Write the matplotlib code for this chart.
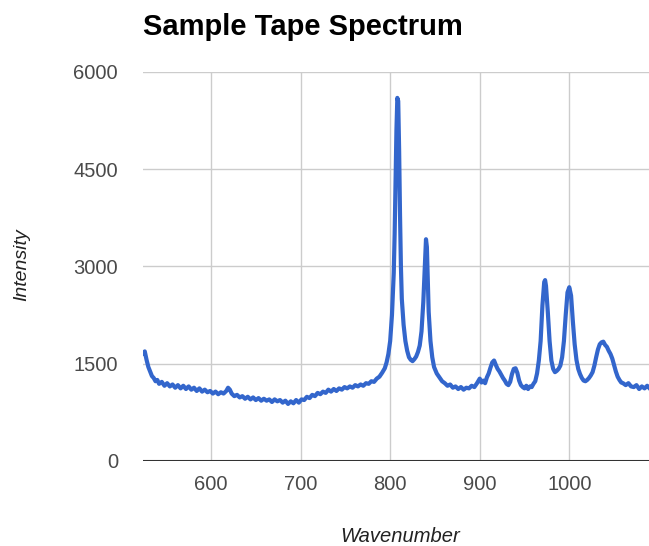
import matplotlib.pyplot as plt

plt.rcParams['font.family'] = ['Liberation Sans', 'DejaVu Sans']

# spectrum (wavenumber, intensity)
wavenumber = [524, 526, 528, 530, 532, 534, 536, 538, 540, 542, 545, 548, 551, 554, 557, 560,
              563, 566, 569, 572, 575, 578, 581, 584, 587, 590, 593, 596, 599, 602, 605, 608,
              611, 614, 617, 619, 621, 623, 626, 629, 632, 635, 638, 641, 644, 647, 650, 653,
              656, 659, 662, 665, 668, 671, 674, 677, 680, 683, 686, 689, 692, 695, 698, 701,
              704, 707, 710, 713, 716, 719, 722, 725, 728, 731, 734, 737, 740, 743, 746, 749,
              752, 755, 758, 761, 764, 767, 770, 773, 776, 779, 782, 785, 788, 791, 794, 796,
              798, 800, 802, 804, 805, 806, 807, 808, 809, 810, 811, 812, 813, 815, 817, 819,
              821, 823, 825, 827, 829, 831, 833, 835, 837, 839, 840, 841, 842, 843, 845, 847,
              849, 852, 855, 858, 861, 864, 867, 870, 873, 876, 879, 882, 885, 888, 891, 894,
              897, 900, 902, 904, 906, 908, 910, 912, 914, 916, 918, 920, 922, 924, 926, 928,
              930, 932, 934, 936, 938, 940, 942, 944, 946, 948, 950, 952, 954, 956, 958, 960,
              962, 964, 966, 968, 970, 972, 973, 974, 976, 978, 980, 982, 984, 986, 988, 990,
              992, 994, 996, 998, 1000, 1002, 1004, 1006, 1008, 1010, 1012, 1014, 1016, 1018,
              1020, 1022, 1024, 1026, 1028, 1030, 1032, 1034, 1036, 1038, 1040, 1042, 1044,
              1046, 1048, 1050, 1052, 1054, 1056, 1058, 1060, 1063, 1066, 1069, 1072, 1075,
              1078, 1081, 1084, 1087, 1089]
intensity = [1660, 1690, 1560, 1450, 1380, 1310, 1280, 1230, 1250, 1190, 1220, 1160, 1200, 1150, 1180, 1130,
             1170, 1120, 1160, 1110, 1150, 1100, 1130, 1080, 1120, 1070, 1100, 1060, 1080, 1040, 1070, 1030,
             1060, 1040, 1080, 1130, 1100, 1040, 1000, 1020, 980, 1000, 960, 990, 950, 980, 940, 970,
             930, 960, 930, 950, 910, 950, 920, 940, 900, 930, 880, 920, 890, 940, 900, 950,
             940, 990, 970, 1020, 1000, 1050, 1030, 1070, 1050, 1100, 1070, 1110, 1080, 1120, 1100, 1140,
             1120, 1150, 1130, 1170, 1150, 1180, 1160, 1200, 1190, 1230, 1220, 1270, 1300, 1360, 1430, 1520,
             1650, 1850, 2250, 2900, 3500, 4300, 5100, 5600, 5550, 4800, 3800, 3000, 2500, 2100, 1850, 1700,
             1600, 1560, 1540, 1570, 1610, 1680, 1780, 2000, 2450, 3100, 3420, 3300, 2800, 2300, 1850, 1600,
             1450, 1350, 1290, 1230, 1200, 1160, 1180, 1130, 1150, 1110, 1140, 1100, 1130, 1120, 1160, 1140,
             1200, 1270, 1210, 1240, 1200, 1290, 1350, 1440, 1520, 1550, 1480, 1420, 1380, 1330, 1280, 1240,
             1190, 1170, 1220, 1340, 1420, 1430, 1360, 1240, 1170, 1140, 1120, 1160, 1110, 1150, 1140, 1190,
             1230, 1350, 1550, 1850, 2400, 2760, 2790, 2700, 2300, 1850, 1550, 1420, 1370, 1390, 1420, 1470,
             1600, 1850, 2250, 2600, 2680, 2550, 2150, 1800, 1560, 1420, 1340, 1280, 1240, 1230,
             1250, 1280, 1320, 1370, 1470, 1600, 1720, 1800, 1830, 1840, 1790, 1760, 1700,
             1650, 1580, 1480, 1380, 1300, 1250, 1210, 1200, 1170, 1200, 1150, 1140, 1170,
             1110, 1150, 1120, 1160, 1130]

y_ticks = [0, 1500, 3000, 4500, 6000]
x_ticks = [600, 700, 800, 900, 1000]

fig = plt.figure(figsize=(6.49, 5.46), dpi=100)
ax = fig.add_axes([0.2203, 0.1557, 0.7797, 0.7125])

ax.plot(wavenumber, intensity, color='#3366cc', lw=3, solid_joinstyle='round')

ax.set_xlim(524, 1089)
ax.set_ylim(0, 6000)
ax.set_xticks(x_ticks)
ax.set_yticks(y_ticks)
ax.grid(True, color='#cccccc', lw=1)
ax.set_axisbelow(True)
ax.axhline(0, color='#333333', lw=1.5)
for s in ax.spines.values():
    s.set_visible(False)
ax.tick_params(length=0, labelsize=14.5, labelcolor='#4a4a4a')
ax.tick_params(axis='y', pad=18)
ax.tick_params(axis='x', pad=10)

fig.text(0.616, 0.0165, 'Wavenumber', style='italic', fontsize=14.5, color='#222222',
         ha='center', va='center')
fig.text(0.034, 0.515, 'Intensity', style='italic', fontsize=14, color='#222222',
         ha='center', va='center', rotation=90)
fig.text(0.2203, 0.95, 'Sample Tape Spectrum', fontsize=21, fontweight='bold', va='center')

fig.savefig('out.png', dpi=100)
